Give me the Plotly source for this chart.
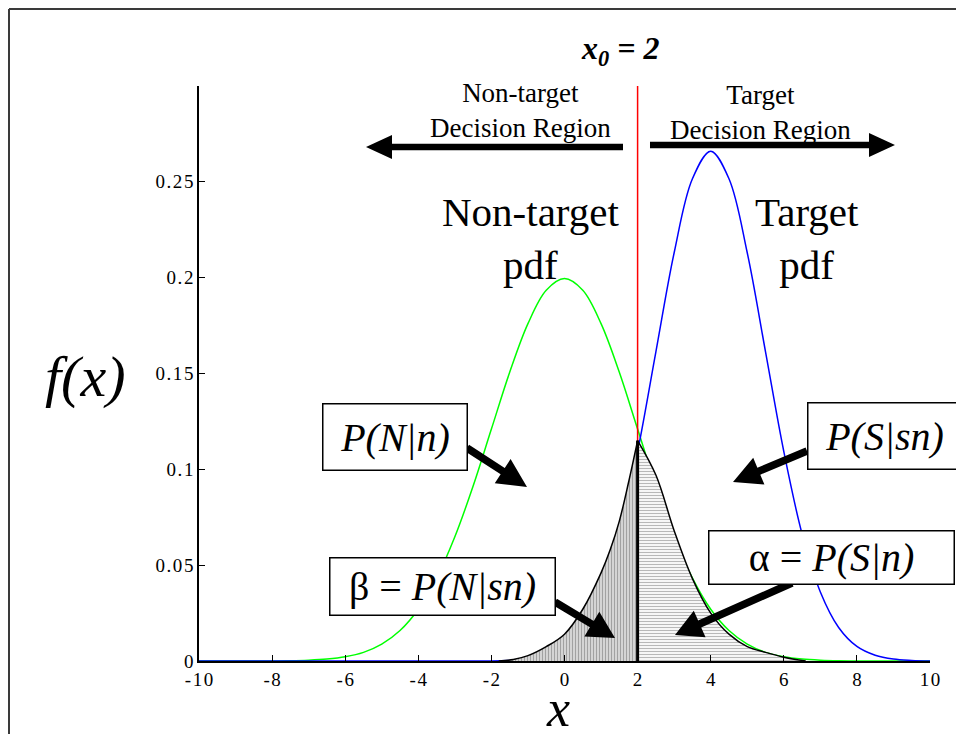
import math
import plotly.graph_objects as go

# ---------------- data ----------------
X_GRID = [-10, -9.5, -9, -8.5, -8, -7.5, -7, -6.5, -6, -5.5, -5, -4.5, -4, -3.5, -3, -2.5,
          -2, -1.5, -1, -0.5, 0, 0.5, 1, 1.5, 2, 2.5, 3, 3.5, 4, 4.5, 5, 5.5, 6, 6.5, 7,
          7.5, 8, 8.5, 9, 9.5, 10]
NONTARGET_PDF = [0, 0, 0, 0, 0, 0.0001, 0.0004, 0.001, 0.0022, 0.0045, 0.0088, 0.0159,
                 0.027, 0.0432, 0.0648, 0.0913, 0.121, 0.1506, 0.176, 0.1934, 0.1995,
                 0.1934, 0.176, 0.1506, 0.121, 0.0913, 0.0648, 0.0432, 0.027, 0.0159,
                 0.0088, 0.0045, 0.0022, 0.001, 0.0004, 0.0001, 0, 0, 0, 0, 0]
TARGET_PDF = [0, 0, 0, 0, 0, 0, 0, 0, 0, 0, 0, 0, 0, 0, 0, 0, 0,
              0.0003, 0.001, 0.003, 0.0076, 0.0175, 0.036, 0.0663, 0.1093, 0.1613, 0.213,
              0.2516, 0.266, 0.2516, 0.213, 0.1613, 0.1093, 0.0663, 0.036, 0.0175, 0.0076,
              0.003, 0.001, 0.0003, 0]
BETA_X = [-1.8, -1.4, -1.0, -0.5, 0, 0.5, 1.0, 1.25, 1.5, 1.75, 2.0]
BETA_Y = [0, 0.0008, 0.0028, 0.0075, 0.014, 0.027, 0.046, 0.058, 0.073, 0.093, 0.115]
ALPHA_X = [2.0, 2.5, 3.0, 3.5, 4.0, 4.5, 5.0, 5.5, 6.0, 6.6]
ALPHA_Y = [0.115, 0.097, 0.068, 0.043, 0.025, 0.014, 0.0075, 0.0045, 0.002, 0]
X0 = 2
Y_TOP = 0.3
X_TICKS = [-10, -8, -6, -4, -2, 0, 2, 4, 6, 8, 10]
X_TICK_TEXT = ["-10", "-8", "-6", "-4", "-2", "0", "2", "4", "6", "8", "10"]
Y_TICKS = [0, 0.05, 0.1, 0.15, 0.2, 0.25]
Y_TICK_TEXT = ["0", "0.05", "0.1", "0.15", "0.2", "0.25"]

# ---------------- layout geometry ----------------
OFF = 8                      # page body margin
W, H = 964 - 2 * OFF, 742 - 2 * OFF
# plot area in screen pixels: x 199..930, y 86..661
ML, MT = 199 - OFF, 86 - OFF
MR, MB = W - (930 - OFF), H - (661 - OFF)
PW, PH = W - ML - MR, H - MT - MB
FONT = "Liberation Serif, Times New Roman, serif"
HAIR = "\u200a"


def spaced(s):
    """letter-spaced tick label, as in the original typesetting"""
    return HAIR.join(s)


def PX(sx):
    """screen x pixel -> paper coordinate"""
    return (sx - OFF - ML) / PW


def PY(sy):
    """screen y pixel -> paper coordinate"""
    return (H - MB - (sy - OFF)) / PH


fig = go.Figure()

fig.add_trace(go.Scatter(x=X_GRID, y=NONTARGET_PDF, mode="lines",
                         line=dict(color="#00ff00", width=1.5, shape="spline"),
                         hoverinfo="skip"))
fig.add_trace(go.Scatter(x=X_GRID, y=TARGET_PDF, mode="lines",
                         line=dict(color="#0000ff", width=1.5, shape="spline"),
                         hoverinfo="skip"))
fig.add_trace(go.Scatter(x=[X0, X0], y=[0, Y_TOP], mode="lines",
                         line=dict(color="#ff0000", width=1.5), hoverinfo="skip"))
fig.add_trace(go.Scatter(x=BETA_X, y=BETA_Y, mode="lines", fill="tozeroy",
                         line=dict(color="black", width=1.5, shape="spline"),
                         fillpattern=dict(shape="|", fgcolor="#6e6e6e", bgcolor="#d4d4d4",
                                          size=3, solidity=0.35),
                         hoverinfo="skip"))
fig.add_trace(go.Scatter(x=ALPHA_X, y=ALPHA_Y, mode="lines", fill="tozeroy",
                         line=dict(color="black", width=1.5, shape="spline"),
                         fillpattern=dict(shape="-", fgcolor="#7a7a7a", bgcolor="#f6f6f6",
                                          size=3, solidity=0.35),
                         hoverinfo="skip"))
fig.add_trace(go.Scatter(x=[X0, X0], y=[0, BETA_Y[-1]], mode="lines",
                         line=dict(color="black", width=3), hoverinfo="skip"))


def arrow(x1, y1, x2, y2, w, L, Hh):
    dx, dy = x2 - x1, y2 - y1
    n = math.hypot(dx, dy)
    ux, uy = dx / n, dy / n
    nx, ny = -uy, ux
    bx, by = x2 - ux * L, y2 - uy * L
    pts = [(x1 + nx * w / 2, y1 + ny * w / 2), (bx + nx * w / 2, by + ny * w / 2),
           (bx + nx * Hh, by + ny * Hh), (x2, y2), (bx - nx * Hh, by - ny * Hh),
           (bx - nx * w / 2, by - ny * w / 2), (x1 - nx * w / 2, y1 - ny * w / 2)]
    path = "M " + " L ".join(f"{PX(x):.5f},{PY(y):.5f}" for x, y in pts) + " Z"
    return dict(type="path", xref="paper", yref="paper", path=path,
                fillcolor="black", line=dict(color="black", width=0), layer="above")


shapes = [
    arrow(623, 147, 366, 147, 6.5, 26, 12),
    arrow(650, 145, 895, 145, 6.5, 26, 12),
    arrow(467, 448, 527, 487, 7.5, 29, 14.5),
    arrow(807, 451, 733, 482, 7.5, 28, 14.5),
    arrow(555, 602, 615, 638, 7.5, 27, 14.5),
    arrow(792, 583, 675, 635, 7.5, 27, 14.5),
    # outer frame (left and top edges)
    dict(type="line", xref="paper", yref="paper", x0=PX(9), x1=PX(9), y0=PY(9), y1=PY(760),
         line=dict(color="#3a3a3a", width=2)),
    dict(type="line", xref="paper", yref="paper", x0=PX(9), x1=PX(980), y0=PY(9), y1=PY(9),
         line=dict(color="#3a3a3a", width=2)),
]

annotations = []


def text(t, cx, cy, size, **kw):
    annotations.append(dict(text=t, xref="paper", yref="paper", x=PX(cx), y=PY(cy),
                            xanchor="center", yanchor="middle", showarrow=False,
                            font=dict(family=FONT, size=size, color="black"), **kw))


def box(t, x0, y0, x1, y1, size):
    annotations.append(dict(text=t, xref="paper", yref="paper", x=PX((x0 + x1) / 2),
                            y=PY((y0 + y1) / 2), xanchor="center", yanchor="middle",
                            showarrow=False, width=x1 - x0 - 2, height=y1 - y0 - 2,
                            bgcolor="white", bordercolor="black", borderwidth=1.5,
                            borderpad=0,
                            font=dict(family=FONT, size=size, color="black")))


text("<b><i>x<sub>0</sub> = 2</i></b>", 620, 50, 32)
text("Non-target<br>Decision Region", 520, 110, 27)
text("Target<br>Decision Region", 760, 112, 27)
text("Non-target<br>pdf", 530, 238, 41)
text("Target<br>pdf", 807, 238, 41)
text("<i>f(x)</i>", 86, 376, 58)
text("<i>x</i>", 558, 708, 52)
box("<i>P(N|n)</i>", 322, 403, 467, 470, 40)
box("<i>P(S|sn)</i>", 807, 402, 961, 469, 40)
box("β = <i>P(N|sn)</i>", 329, 557, 555, 615, 40)
box("α = <i>P(S|n)</i>", 708, 530, 954, 584, 40)

fig.update_layout(
    width=W, height=H,
    margin=dict(l=ML, r=MR, t=MT, b=MB, pad=0),
    paper_bgcolor="white", plot_bgcolor="white",
    showlegend=False,
    font=dict(family=FONT, size=19, color="black"),
    shapes=shapes, annotations=annotations,
    xaxis=dict(range=[-10, 10], tickvals=X_TICKS,
               ticktext=[spaced(t) for t in X_TICK_TEXT], ticks="inside", ticklen=6,
               tickwidth=1.2, tickcolor="black", showline=True, linecolor="black",
               linewidth=1.5, showgrid=False, zeroline=False,
               tickfont=dict(family=FONT, size=19, color="black")),
    yaxis=dict(range=[0, Y_TOP], tickvals=Y_TICKS,
               ticktext=[spaced(t) for t in Y_TICK_TEXT], ticks="inside",
               ticklen=6, tickwidth=1.2, tickcolor="black", showline=True,
               linecolor="black", linewidth=1.5, showgrid=False, zeroline=False,
               tickfont=dict(family=FONT, size=19, color="black")),
)

fig.write_html("out.html")
